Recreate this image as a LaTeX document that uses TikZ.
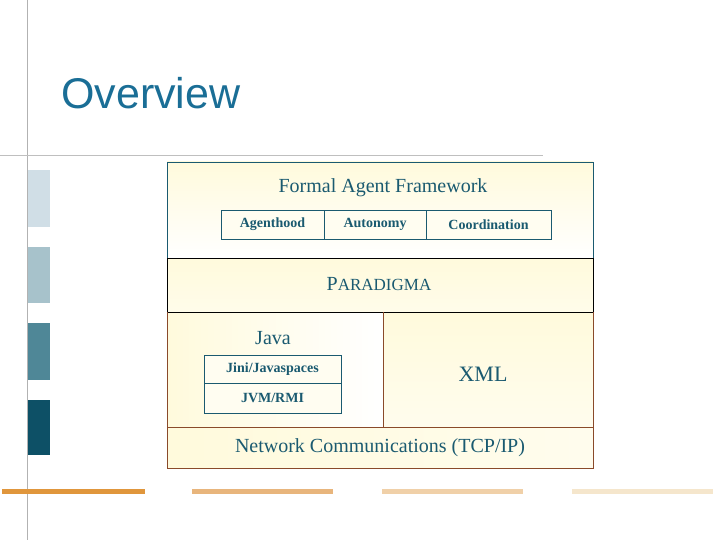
\documentclass[tikz,border=0pt]{standalone}
\usepackage{fontspec}
\setmainfont{Liberation Serif}
\newfontfamily\titlefont{Liberation Sans}
\definecolor{tc}{HTML}{1A5A70}
\definecolor{ttl}{HTML}{1A6E96}
\definecolor{ylw}{HTML}{FFFADC}
\definecolor{brn}{HTML}{8A4A2A}
\definecolor{sq1}{HTML}{D0DEE6}
\definecolor{sq2}{HTML}{A7C2CB}
\definecolor{sq3}{HTML}{4F8797}
\definecolor{sq4}{HTML}{0D5066}
\definecolor{ln1}{HTML}{E0963C}
\definecolor{ln2}{HTML}{E8B57C}
\definecolor{ln3}{HTML}{F0D0A8}
\definecolor{ln4}{HTML}{F5E6CC}
\begin{document}
\begin{tikzpicture}[x=1pt,y=-1pt,
  txt/.style={text=tc,inner sep=0pt},
  small/.style={draw=tc,line width=0.8pt,fill=white!60!ylw,text=tc,font=\bfseries\fontsize{14}{16}\selectfont,inner sep=0pt}]
\useasboundingbox (0,0) rectangle (720,540);
\fill[white] (0,0) rectangle (720,540);
\draw[gray!60] (27,0) -- (27,540);
\draw[gray!50] (0,155) -- (543,155);
\node[anchor=base west,inner sep=0pt,text=ttl,font=\titlefont\fontsize{43}{46}\selectfont] (title) at (61,109) {Overview};
\fill[sq1] (28,170) rectangle (50,227);
\fill[sq2] (28,247) rectangle (50,303);
\fill[sq3] (28,323) rectangle (50,380);
\fill[sq4] (28,400) rectangle (50,455);
\fill[ln1] (2,489) rectangle (145,494);
\fill[ln2] (192,489) rectangle (333,494);
\fill[ln3] (382,489) rectangle (523,494);
\fill[ln4] (572,489) rectangle (713,494);
\shade[top color=ylw,bottom color=white] (167,162) rectangle (593,258);
\shade[top color=ylw,bottom color=ylw!60] (167,258) rectangle (593,312);
\shade[left color=ylw,right color=white] (167,312) rectangle (383,427);
\shade[top color=ylw,bottom color=ylw!50] (383,312) rectangle (593,427);
\shade[left color=ylw,right color=ylw!50] (167,427) rectangle (593,468);
\draw[tc,line width=0.8pt] (167,258) -- (167,162) -- (593,162) -- (593,258);
\draw[black,line width=0.8pt] (167,258) -- (593,258) (167,312) -- (593,312);
\draw[black,line width=0.8pt] (167,258) -- (167,312) (593,258) -- (593,312);
\draw[brn,line width=0.8pt] (167,312) -- (167,468) -- (593,468) -- (593,312) (383,312) -- (383,427) (167,427) -- (593,427);
\node[txt,font=\fontsize{20}{22}\selectfont] (faf) at (383,188) {Formal Agent Framework};
\node[small,minimum width=103,minimum height=29] (a1) at (272.5,224.5) {Agenthood};
\node[small,minimum width=102,minimum height=29] (a2) at (375,224.5) {Autonomy};
\node[small,minimum width=125,minimum height=29] (a3) at (488.5,224.5) {Coordination};
\node[txt,font=\fontsize{20}{22}\selectfont] (par) at (379,284) {P{\fontsize{17}{20}\selectfont ARADIGMA}};
\node[txt,font=\fontsize{20}{22}\selectfont] (java) at (273,338) {Java};
\node[small,minimum width=137,minimum height=28] (jini) at (272.5,369) {Jini/Javaspaces};
\node[small,minimum width=137,minimum height=30] (jvm) at (272.5,398) {JVM/RMI};
\node[txt,font=\fontsize{22}{24}\selectfont] (xml) at (483,374) {XML};
\node[txt,font=\fontsize{20}{22}\selectfont] (net) at (380,448) {Network Communications (TCP/IP)};
\end{tikzpicture}
\end{document}
